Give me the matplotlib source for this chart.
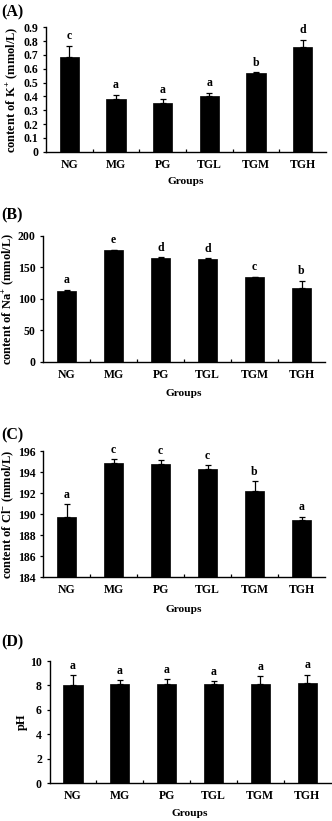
import matplotlib
matplotlib.use("Agg")
import matplotlib.pyplot as plt
from matplotlib.ticker import FixedLocator, NullFormatter
import numpy as np

plt.rcParams['font.family'] = ['Liberation Serif', 'DejaVu Serif']
plt.rcParams['font.weight'] = 'bold'
plt.rcParams['mathtext.fontset'] = 'custom'
plt.rcParams['mathtext.rm'] = 'Liberation Serif:bold'
plt.rcParams['mathtext.it'] = 'Liberation Serif:bold'
plt.rcParams['mathtext.bf'] = 'Liberation Serif:bold'

groups = ["NG", "MG", "PG", "TGL", "TGM", "TGH"]

k_vals = [0.688, 0.382, 0.350, 0.401, 0.568, 0.754]
k_err = [0.080, 0.030, 0.028, 0.027, 0.005, 0.056]
k_letters = ["c", "a", "a", "a", "b", "d"]

na_vals = [112.8, 177.0, 165.0, 164.0, 134.6, 116.5]
na_err = [2.0, 0.8, 0.8, 0.5, 0.4, 12.2]
na_letters = ["a", "e", "d", "d", "c", "b"]

cl_vals = [189.75, 194.83, 194.76, 194.29, 192.16, 189.46]
cl_err = [1.20, 0.37, 0.38, 0.35, 0.95, 0.30]
cl_letters = ["a", "c", "c", "c", "b", "a"]

ph_vals = [8.00, 8.16, 8.08, 8.16, 8.16, 8.24]
ph_err = [0.82, 0.25, 0.44, 0.19, 0.60, 0.63]
ph_letters = ["a", "a", "a", "a", "a", "a"]

W, H = 332, 821
fig = plt.figure(figsize=(W / 100, H / 100), dpi=100)

def px_axes(left, right, top, bottom):
    return fig.add_axes([left / W, 1 - bottom / H, (right - left) / W, (bottom - top) / H])

panels = [
    dict(box=(46, 326, 27.3, 151.7), vals=k_vals, err=k_err, let=k_letters,
         ylim=(0, 0.9), yticks=np.round(np.arange(0, 0.91, 0.1), 1),
         yfmt=lambda v: "0" if v == 0 else f"{v:.1f}",
         ylabel=r"content of K$^{+}$ (mmol/L)", ylx=12, tag="(A)", tagy=12,
         gy=182),
    dict(box=(43.2, 325, 236, 361.7), vals=na_vals, err=na_err, let=na_letters,
         ylim=(0, 200), yticks=[0, 50, 100, 150, 200],
         yfmt=lambda v: f"{int(v)}",
         ylabel=r"content of Na$^{+}$ (mmol/L)", ylx=8, tag="(B)", tagy=215,
         gy=393),
    dict(box=(43.2, 325, 451, 577.3), vals=cl_vals, err=cl_err, let=cl_letters,
         ylim=(184, 196), yticks=[184, 186, 188, 190, 192, 194, 196],
         yfmt=lambda v: f"{int(v)}",
         ylabel=r"content of Cl$^{-}$ (mmol/L)", ylx=8, tag="(C)", tagy=435,
         gy=609),
    dict(box=(49.6, 330.6, 661, 783.3), vals=ph_vals, err=ph_err, let=ph_letters,
         ylim=(0, 10), yticks=[0, 2, 4, 6, 8, 10],
         yfmt=lambda v: f"{int(v)}",
         ylabel="pH", ylx=22, tag="(D)", tagy=642,
         gy=813),
]

x = np.arange(len(groups))
for p in panels:
    l, r, t, b = p["box"]
    ax = px_axes(l, r, t, b)
    ymin = p["ylim"][0]
    heights = [v - ymin for v in p["vals"]]
    ax.bar(x, heights, bottom=ymin, width=0.41, color="black", edgecolor="black", linewidth=0.5,
           zorder=2)
    ax.errorbar(x, p["vals"], yerr=[np.zeros(len(x)), p["err"]], fmt="none",
                ecolor="black", elinewidth=0.9, capsize=2.2, capthick=0.9, zorder=3)
    for xi, v, e, lt in zip(x, p["vals"], p["err"], p["let"]):
        ax.annotate(lt, (xi, v + e), xytext=(0, 2.5), textcoords="offset points",
                    ha="center", va="bottom", fontsize=8.5, fontweight="bold")
    ax.set_xlim(-0.5, 5.5)
    ax.set_ylim(*p["ylim"])
    ax.spines["top"].set_visible(False)
    ax.spines["right"].set_visible(False)
    ax.spines["left"].set_linewidth(1.0)
    ax.spines["bottom"].set_linewidth(1.0)
    ax.set_yticks(p["yticks"])
    ax.set_yticklabels([p["yfmt"](v) for v in p["yticks"]])
    ax.set_xticks(x)
    ax.set_xticklabels(groups)
    ax.tick_params(axis="x", which="major", length=0, pad=5, labelsize=8.5)
    ax.xaxis.set_minor_locator(FixedLocator(np.arange(0.5, 5.0, 1.0)))
    ax.xaxis.set_minor_formatter(NullFormatter())
    ax.tick_params(axis="x", which="minor", direction="in", length=2.5, width=0.9)
    ax.tick_params(axis="y", direction="out", length=2.5, width=0.9, pad=3, labelsize=8.5)
    for lab in ax.get_xticklabels() + ax.get_yticklabels():
        lab.set_fontweight("bold")
    fig.text(0.5 * (l + r) / W, 1 - p["gy"] / H, "Groups", ha="center", va="center",
             fontsize=8.2, fontweight="bold")
    fig.text(p["ylx"] / W, 1 - 0.5 * (t + b) / H, p["ylabel"], rotation=90,
             ha="center", va="center", fontsize=9, fontweight="bold")
    fig.text(1 / W, 1 - p["tagy"] / H, p["tag"], ha="left", va="center",
             fontsize=11.5, fontweight="bold")

fig.savefig("out.png", dpi=100)
